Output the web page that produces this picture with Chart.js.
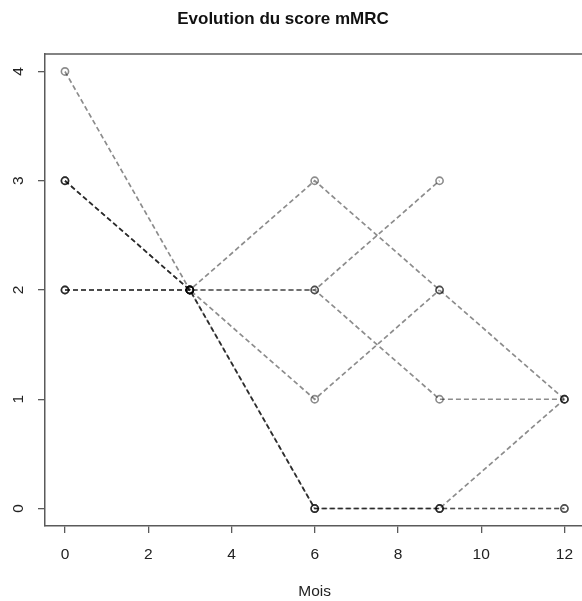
<!DOCTYPE html>
<html>
<head>
<meta charset="utf-8">
<script src="https://cdn.jsdelivr.net/npm/chart.js@4"></script>
<style>
  html, body { margin: 0; padding: 0; background: #fff; overflow: hidden; }
</style>
</head>
<body>
<canvas id="chart" width="590" height="601"></canvas>
<script>
// months of follow-up and mMRC score of each patient (null = no visit)
const months = [0, 3, 6, 9, 12];
const patient1 = [4, 2, 3, 2, 1];
const patient2 = [3, 2, 1, 2, null];
const patient3 = [3, 2, 2, 3, null];
const patient4 = [2, 2, 2, 1, 1];
const patient5 = [2, 2, 0, 0, 0];
const patient6 = [3, 2, 0, 0, 1];
const patient7 = [2, 2, 0, 0, 0];
const patients = [patient1, patient2, patient3, patient4, patient5, patient6, patient7];
const xTicks = [0, 2, 4, 6, 8, 10, 12];
const yTicks = [0, 1, 2, 3, 4];

const lineColor = 'rgba(0,0,0,0.45)';
const boxColor = '#5a5a5a';
const fontFamily = '"Liberation Sans", Arial, sans-serif';

const frame = {
  id: 'frame',
  afterDraw(chart) {
    const { ctx, chartArea } = chart;
    const y = chart.scales.y;
    ctx.save();
    ctx.strokeStyle = boxColor;
    ctx.lineWidth = 1.5;
    ctx.beginPath();
    ctx.moveTo(chartArea.left, chartArea.top);
    ctx.lineTo(chartArea.right, chartArea.top);
    ctx.stroke();

    ctx.fillStyle = '#222';
    ctx.font = '15.5px ' + fontFamily;
    ctx.textAlign = 'center';
    ctx.textBaseline = 'middle';
    yTicks.forEach(v => {
      ctx.save();
      ctx.translate(19, y.getPixelForValue(v));
      ctx.rotate(-Math.PI / 2);
      ctx.fillText(String(v), 0, 0);
      ctx.restore();
    });

    ctx.font = 'bold 17px ' + fontFamily;
    ctx.fillStyle = '#111';
    ctx.fillText('Evolution du score mMRC', 283, 19);
    ctx.restore();
  }
};

new Chart(document.getElementById('chart'), {
  type: 'line',
  data: {
    datasets: patients.map(p => ({
      data: months.map((m, i) => ({ x: m, y: p[i] })),
      borderColor: lineColor,
      borderWidth: 1.7,
      borderDash: [5, 3],
      pointRadius: 3.6,
      pointBorderWidth: 1.6,
      pointBorderColor: lineColor,
      pointBackgroundColor: 'rgba(255,255,255,0)',
      spanGaps: false,
      tension: 0
    }))
  },
  options: {
    responsive: false,
    animation: false,
    layout: { padding: { top: 54, right: 4, left: 0, bottom: 0 } },
    plugins: { legend: { display: false }, tooltip: { enabled: false } },
    scales: {
      x: {
        type: 'linear',
        min: -0.48,
        max: 12.48,
        afterFit(scale) { scale.height = 75; },
        afterBuildTicks(scale) { scale.ticks = xTicks.map(v => ({ value: v })); },
        ticks: { color: '#222', font: { size: 15.5, family: fontFamily }, padding: 12, maxRotation: 0 },
        grid: { drawOnChartArea: false, drawTicks: true, tickLength: 7, color: boxColor, lineWidth: 1.3 },
        border: { display: true, color: boxColor, width: 1.5 },
        title: {
          display: true,
          text: 'Mois',
          color: '#222',
          font: { size: 15.5, family: fontFamily },
          padding: { top: 0, bottom: 0 }
        }
      },
      y: {
        type: 'linear',
        min: -0.16,
        max: 4.16,
        afterFit(scale) { scale.width = 45; },
        afterBuildTicks(scale) { scale.ticks = yTicks.map(v => ({ value: v })); },
        ticks: { display: false },
        grid: { drawOnChartArea: false, drawTicks: true, tickLength: 7, color: boxColor, lineWidth: 1.3 },
        border: { display: true, color: boxColor, width: 1.5 }
      }
    }
  },
  plugins: [frame]
});
</script>
</body>
</html>
